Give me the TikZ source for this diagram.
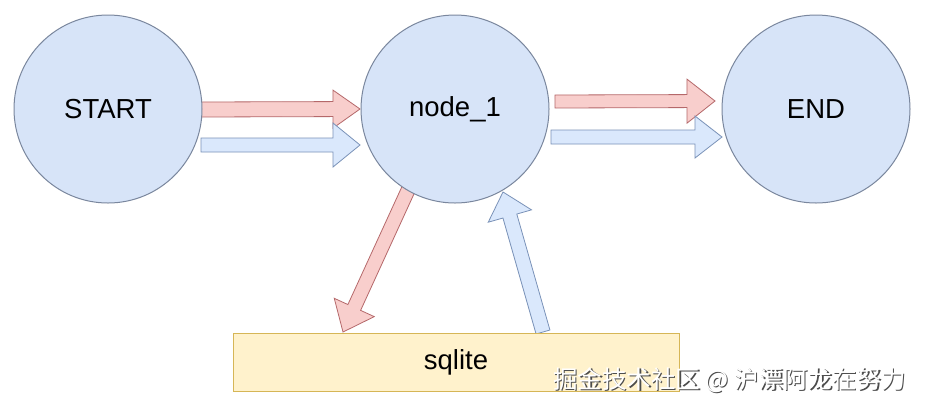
\documentclass[tikz,border=0pt]{standalone}
\usepackage{fontspec}
\setmainfont{Liberation Sans}
\newfontfamily\cjk{Noto Sans CJK SC}
\usetikzlibrary{calc}
\definecolor{circfill}{HTML}{D7E4F8}
\definecolor{circline}{HTML}{7A879E}
\definecolor{redfill}{HTML}{F8CECC}
\definecolor{redline}{HTML}{B5686A}
\definecolor{bluefill}{HTML}{DAE8FC}
\definecolor{blueline}{HTML}{7A92B8}
\definecolor{boxfill}{HTML}{FFF2CC}
\definecolor{boxline}{HTML}{D6B656}
\tikzset{
  statenode/.style={circle, draw=circline, fill=circfill, line width=1pt,
    minimum size=188pt, inner sep=0pt, font=\fontsize{27.5}{30}\selectfont},
  storebox/.style={rectangle, draw=boxline, fill=boxfill, line width=0.9pt,
    minimum width=446pt, minimum height=58pt, inner sep=0pt,
    font=\fontsize{27.5}{30}\selectfont},
  redarrow/.style={draw=redline, fill=redfill, line width=0.8pt, line join=miter},
  bluearrow/.style={draw=blueline, fill=bluefill, line width=0.8pt, line join=miter},
}
% #1 tail, #2 tip, #3 style, #4 body half width, #5 head half width, #6 head length
\newcommand\fatarrow[6]{%
  \coordinate (fa-h) at ($(#2)!#6!(#1)$);
  \draw[#3] ($(#1)!#4!90:(#2)$) -- ($(fa-h)!#4!-90:(#1)$) --
    ($(fa-h)!#5!-90:(#1)$) -- (#2) -- ($(fa-h)!#5!90:(#1)$) --
    ($(fa-h)!#4!90:(#1)$) -- ($(#1)!#4!-90:(#2)$) -- cycle;
}
\begin{document}
\begin{tikzpicture}[x=1pt,y=-1pt]
\useasboundingbox (0,0) rectangle (926,408);
\fill[white] (0,0) rectangle (926,408);

% arrow end points
\coordinate (r1s) at (201,109.5);
\coordinate (r1e) at (360,109);
\coordinate (b1s) at (201,145);
\coordinate (b1e) at (360,145);
\coordinate (r2s) at (555,101.5);
\coordinate (r2e) at (715,101);
\coordinate (b2s) at (551,137);
\coordinate (b2e) at (722,137);
\coordinate (r3s) at (409,188);
\coordinate (r3e) at (343,332);
\coordinate (b3s) at (543,332);
\coordinate (b3e) at (503,192);

\fatarrow{r1s}{r1e}{redarrow}{7.5pt}{19pt}{27pt}
\fatarrow{b1s}{b1e}{bluearrow}{7pt}{22pt}{27pt}
\fatarrow{r2s}{r2e}{redarrow}{6.5pt}{22pt}{28pt}
\fatarrow{b2s}{b2e}{bluearrow}{7pt}{21pt}{27pt}
\fatarrow{r3s}{r3e}{redarrow}{7pt}{22pt}{27pt}
\fatarrow{b3s}{b3e}{bluearrow}{7.2pt}{22.5pt}{25pt}

\node[statenode] (start) at (108,109) {START};
\node[statenode] (node1) at (455,109) {node\_1};
\node[statenode] (end) at (816,109) {END};
\node[storebox] (sqlite) at (456,362) {sqlite};

\node[anchor=west, text=black!70, font=\cjk\fontsize{24.5}{28}\selectfont, inner sep=0pt]
  (wmshadow) at (554.3,381.3) {掘金技术社区 @ 沪漂阿龙在努力};
\node[anchor=west, text=white, font=\cjk\fontsize{24.5}{28}\selectfont, inner sep=0pt]
  (wm) at (553,380) {掘金技术社区 @ 沪漂阿龙在努力};
\end{tikzpicture}
\end{document}
